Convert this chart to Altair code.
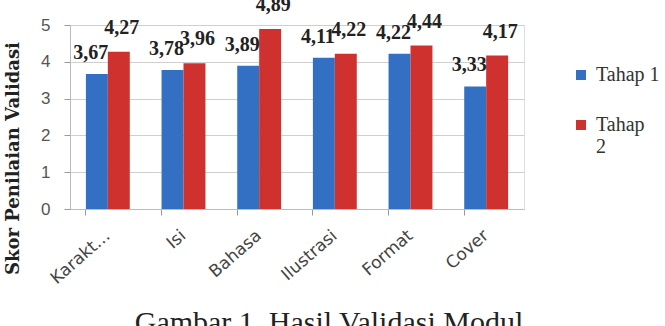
import altair as alt
import pandas as pd

categories = ["Karakt…", "Isi", "Bahasa", "Ilustrasi", "Format", "Cover"]
tahap1 = [3.67, 3.78, 3.89, 4.11, 4.22, 3.33]
tahap2 = [4.27, 3.96, 4.89, 4.22, 4.44, 4.17]
series = ["Tahap 1", "Tahap 2"]
y_ticks = [0, 1, 2, 3, 4, 5]

rows = []
for c, a, b in zip(categories, tahap1, tahap2):
    rows.append({"kategori": c, "tahap": series[0], "nilai": a})
    rows.append({"kategori": c, "tahap": series[1], "nilai": b})
df = pd.DataFrame(rows)

x_enc = alt.X("kategori:N", sort=categories, title=None,
              scale=alt.Scale(paddingInner=0.42, paddingOuter=0.21),
              axis=alt.Axis(labelAngle=-41, labelAlign="right", labelBaseline="middle",
                            labelFont="DejaVu Sans", labelFontSize=17,
                            labelColor="#444444", labelPadding=18,
                            tickColor="#999999", tickSize=6, domainColor="#bbbbbb",
                            ticks=True, bandPosition=0))
y_scale = alt.Scale(domain=[0, 5], nice=False)
y_enc = alt.Y("nilai:Q", title="Skor Penilaian Validasi", scale=y_scale,
              axis=alt.Axis(values=y_ticks, tickCount=6, labelOverlap=False,
                            labelFont="Liberation Sans",
                            labelFontSize=17, labelColor="#555555", labelPadding=14,
                            tickColor="#999999", tickSize=6, domainColor="#bbbbbb",
                            gridColor="#cfcfcf",
                            titleFont="DejaVu Serif", titleFontWeight="bold",
                            titleFontSize=18, titleColor="#222222", titleAngle=-90,
                            titleX=-48, titleY=133, titleAlign="center"))
color_enc = alt.Color("tahap:N", title=None,
                      scale=alt.Scale(domain=series, range=["#3370c4", "#cf322e"]),
                      legend=alt.Legend(orient="none", legendX=501, legendY=40,
                                        symbolType="square", symbolSize=100,
                                        symbolStrokeWidth=0, labelOffset=5,
                                        labelFont="Liberation Serif", labelFontSize=20,
                                        labelColor="#333333", rowPadding=30,
                                        labelExpr="datum.label == 'Tahap 2' ? [' Tahap', '2'] : datum.label"))

base = alt.Chart(df).encode(x=x_enc, xOffset=alt.XOffset("tahap:N", sort=series))

bars = base.mark_bar().encode(y=y_enc, color=color_enc)

lab_base = base.transform_calculate(
    lab="replace(format(datum.nilai, '.2f'), '.', ',')"
)
labels1 = lab_base.transform_filter(alt.datum.tahap == series[0]).mark_text(
    baseline="bottom", dy=-11, dx=-6, font="Liberation Serif", fontWeight="bold",
    fontSize=20, color="#222222").encode(y=y_enc, text="lab:N")
labels2 = lab_base.transform_filter(alt.datum.tahap == series[1]).mark_text(
    baseline="bottom", dy=-14, dx=3, font="Liberation Serif", fontWeight="bold",
    fontSize=20, color="#222222").encode(y=y_enc, text="lab:N")

chart = alt.layer(bars, labels1, labels2).properties(
    width=454, height=184,
    padding={"left": 70, "top": 25, "right": 141, "bottom": 117},
    autosize=alt.AutoSizeParams(type="none"),
    title=alt.TitleParams("Gambar 1. Hasil Validasi Modul", orient="bottom", anchor="middle",
                          font="Liberation Serif", fontSize=30, fontWeight="normal",
                          color="#222222", dx=32, offset=22),
).configure_view(stroke=None).configure(background="white")

chart.save("out.html", embed_options={"renderer": "svg", "actions": False})
